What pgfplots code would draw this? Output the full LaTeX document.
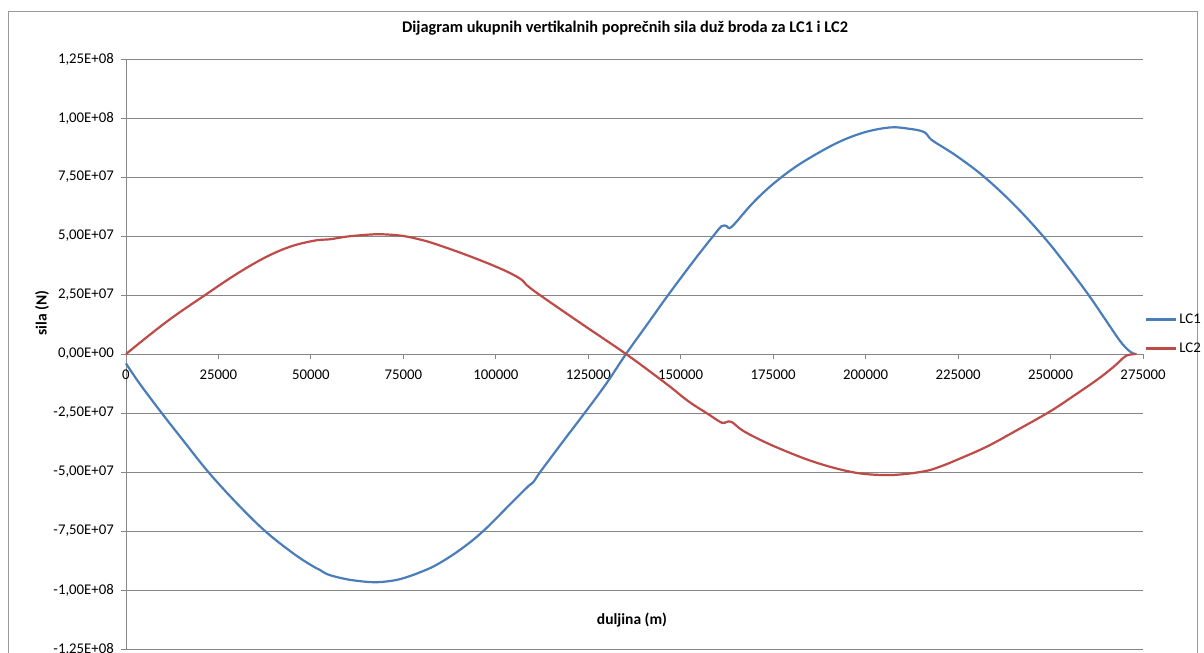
\documentclass[border=0pt]{standalone}
\usepackage{fontspec}
\setmainfont{Carlito}
\usepackage{pgfplots}
\pgfplotsset{compat=1.18}
\definecolor{lcblue}{HTML}{4A7EBB}
\definecolor{lcred}{HTML}{BE4B48}
\definecolor{gridgray}{HTML}{868686}
\definecolor{bordergray}{HTML}{9A9A9A}

\pgfplotstableread{
x y
0 -4.0e6
3800 -1.28e7
9650 -2.5e7
15950 -3.76e7
22260 -5.0e7
29930 -6.32e7
37590 -7.5e7
45240 -8.45e7
50500 -8.99e7
52460 -9.15e7
54260 -9.32e7
57500 -9.47e7
61470 -9.59e7
66880 -9.67e7
71390 -9.62e7
74980 -9.5e7
79500 -9.25e7
84000 -8.93e7
90300 -8.3e7
96620 -7.5e7
104600 -6.25e7
108800 -5.6e7
110200 -5.42e7
112000 -5.0e7
118000 -3.74e7
124110 -2.48e7
129800 -1.27e7
135200 0
141000 1.27e7
146600 2.5e7
152700 3.78e7
156100 4.47e7
158800 5.0e7
161080 5.42e7
162400 5.42e7
163780 5.39e7
168730 6.27e7
172900 6.92e7
177300 7.5e7
182200 8.05e7
188550 8.64e7
194000 9.07e7
200280 9.42e7
206600 9.6e7
211000 9.56e7
215600 9.42e7
217300 9.15e7
218800 8.97e7
224500 8.4e7
231800 7.54e7
240000 6.35e7
248000 4.99e7
254100 3.8e7
260200 2.52e7
265000 1.42e7
268800 5.5e6
271200 1.4e6
272800 0
}\lcone

\pgfplotstableread{
x y
0 0
11000 1.37e7
21400 2.5e7
30000 3.4e7
38000 4.12e7
45000 4.58e7
51900 4.83e7
55100 4.86e7
60000 4.98e7
66900 5.07e7
71000 5.06e7
75000 5.0e7
79000 4.87e7
83100 4.69e7
92000 4.2e7
101100 3.63e7
106500 3.2e7
108500 2.9e7
111900 2.5e7
123000 1.3e7
135200 0
146000 -1.25e7
152050 -2.0e7
157460 -2.55e7
161080 -2.91e7
162400 -2.88e7
163780 -2.88e7
166920 -3.26e7
173000 -3.75e7
179550 -4.19e7
186000 -4.57e7
193070 -4.89e7
199000 -5.07e7
205690 -5.13e7
211000 -5.08e7
216500 -4.95e7
220000 -4.78e7
224000 -4.53e7
232700 -3.93e7
241000 -3.22e7
249800 -2.44e7
256000 -1.8e7
262500 -1.1e7
267000 -5.5e6
270100 -1.1e6
271800 -0.2e6
273300 0
}\lctwo

\begin{document}
\begin{tikzpicture}
\useasboundingbox (0,0) rectangle (1204bp,-653bp);
\fill[white] (0,0) rectangle (1204bp,-653bp);
\draw[bordergray, line width=1bp] (8bp,-660bp) -- (8bp,-11bp) -- (1197bp,-11bp) -- (1197bp,-660bp);
\begin{axis}[
  at={(126bp,-649bp)}, anchor=south west,
  scale only axis, width=1017bp, height=590bp,
  xmin=0, xmax=275000, ymin=-1.25e8, ymax=1.25e8,
  scaled ticks=false,
  axis x line=middle, axis y line=left,
  axis line style={-, gridgray, line width=0.9bp},
  hide obscured x ticks=false, hide obscured y ticks=false,
  xtick={0,25000,50000,75000,100000,125000,150000,175000,200000,225000,250000,275000},
  xticklabels={0,25000,50000,75000,100000,125000,150000,175000,200000,225000,250000,275000},
  ytick={-1.25e8,-1e8,-7.5e7,-5e7,-2.5e7,0,2.5e7,5e7,7.5e7,1e8,1.25e8},
  yticklabels={{-1,25E+08},{-1,00E+08},{-7,50E+07},{-5,00E+07},{-2,50E+07},{0,00E+00},{2,50E+07},{5,00E+07},{7,50E+07},{1,00E+08},{1,25E+08}},
  tick align=outside, major tick length=5bp,
  tick style={gridgray, line width=0.9bp},
  ymajorgrids=true, xmajorgrids=false,
  grid style={gridgray, line width=0.9bp},
  ticklabel style={font=\fontsize{14.8bp}{17bp}\selectfont, text=black},
  xticklabel style={anchor=north, inner sep=0pt, yshift=-11bp},
  yticklabel style={anchor=east, inner sep=0pt, xshift=-7bp},
  title={\bfseries Dijagram ukupnih vertikalnih poprečnih sila duž broda za LC1 i LC2},
  title style={at={(rel axis cs:0.4907,1.0424)}, anchor=center, font=\fontsize{16.3bp}{19bp}\selectfont},
  xlabel={\bfseries duljina (m)},
  xlabel style={at={(rel axis cs:0.4975,0.0492)}, anchor=center, font=\fontsize{15.5bp}{18bp}\selectfont},
  ylabel={\bfseries sila (N)},
  ylabel style={at={(rel axis cs:-0.0826,0.5695)}, anchor=center, rotate=0, font=\fontsize{15.5bp}{18bp}\selectfont},
  legend style={at={(rel axis cs:1.002,0.534)}, anchor=west, draw=none, fill=none,
    font=\fontsize{14.8bp}{17bp}\selectfont, row sep=14bp, inner sep=0pt, cells={anchor=west}},
  legend image code/.code={\draw[#1] (0bp,0bp) -- (30bp,0bp);},
  clip=false,
]
\addplot[lcblue, line width=2.2bp, smooth, tension=0.6] table {\lcone};
\addlegendentry{LC1}
\addplot[lcred, line width=2.2bp, smooth, tension=0.6] table {\lctwo};
\addlegendentry{LC2}
\end{axis}
\end{tikzpicture}
\end{document}
